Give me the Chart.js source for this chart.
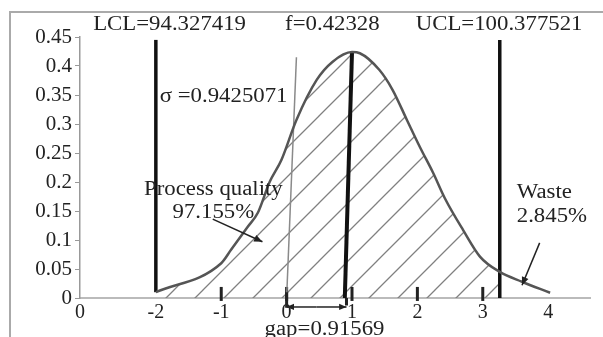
<!DOCTYPE html>
<html>
<head>
<meta charset="utf-8">
<script src="https://cdn.jsdelivr.net/npm/chart.js@4.4.1/dist/chart.umd.min.js"></script>
<style>
  html, body { margin: 0; padding: 0; background: #fff; }
</style>
</head>
<body>
<canvas id="chart" width="603" height="337"></canvas>
<script>
// density curve
const curveX = [-2, -1, -0.85, -0.6, -0.44, -0.26, -0.08, 0.15, 0.46, 0.7, 1.0, 1.12, 1.42, 1.62, 1.84, 2.04, 2.24, 2.42, 2.7, 2.96, 3.26, 3.6, 4.03];
const curveY = [0.01, 0.06, 0.083, 0.122, 0.147, 0.2, 0.238, 0.307, 0.376, 0.407, 0.424, 0.422, 0.393, 0.359, 0.307, 0.26, 0.216, 0.172, 0.117, 0.071, 0.045, 0.028, 0.009];

const xMin = -3.16;
const xMax = 4.64;
const xTickValues = [xMin, -2, -1, 0, 1, 2, 3, 4];
const xTickLabels = ["0", "-2", "-1", "0", "1", "2", "3", "4"];
const tickMarks = [-1, 0, 1, 2, 3];

const lcl = -2;
const ucl = 3.26;
const limitTop = 0.445;
const meanX = [0.89, 1.0];
const meanY = [0, 0.424];
const guideX = [0, 0.15];
const guideY = [0, 0.415];
const gap = 0.91569;

const labels = ["LCL=94.327419", "f=0.42328", "UCL=100.377521", "σ =0.9425071",
                "Process quality", "97.155%", "Waste", "2.845%", "gap=0.91569"];

const FONT = '"Liberation Serif", "Times New Roman", serif';
Chart.defaults.font.family = FONT;
Chart.defaults.font.size = 20;
Chart.defaults.color = "#222";

const pts = (xs, ys) => xs.map((v, i) => ({x: v, y: ys[i]}));

function hatchPattern() {
    const s = 29;
    const c = document.createElement("canvas");
    c.width = s;
    c.height = s;
    const g = c.getContext("2d");
    g.strokeStyle = "#808080";
    g.lineWidth = 1.3;
    g.beginPath();
    g.moveTo(-2, s + 2); g.lineTo(s + 2, -2);
    g.moveTo(-2, 2); g.lineTo(2, -2);
    g.moveTo(s - 2, s + 2); g.lineTo(s + 2, s - 2);
    g.stroke();
    return g.createPattern(c, "repeat");
}

// white page and the grey frame round the plot
const frame = {
    id: "frame",
    beforeDraw(chart) {
        const ctx = chart.ctx;
        ctx.save();
        ctx.fillStyle = "#fff";
        ctx.fillRect(0, 0, chart.width, chart.height);
        ctx.strokeStyle = "#aaa";
        ctx.lineWidth = 2;
        ctx.strokeRect(10, 12, chart.width + 20, chart.height + 20);
        ctx.restore();
    }
};

// keep the hatch left of UCL
const clipHatch = {
    id: "clipHatch",
    beforeDatasetsDraw(chart) {
        const {ctx, chartArea, scales} = chart;
        ctx.save();
        ctx.beginPath();
        ctx.rect(chartArea.left, chartArea.top, scales.x.getPixelForValue(ucl) - chartArea.left, chartArea.height);
        ctx.clip();
    },
    afterDatasetDraw(chart, args) {
        if (chart.data.datasets[args.index].label === "hatch") chart.ctx.restore();
    }
};

function arrow(ctx, x1, y1, x2, y2, size) {
    const a = Math.atan2(y2 - y1, x2 - x1);
    ctx.beginPath();
    ctx.moveTo(x1, y1);
    ctx.lineTo(x2, y2);
    ctx.stroke();
    ctx.beginPath();
    ctx.moveTo(x2, y2);
    ctx.lineTo(x2 - size * Math.cos(a - 0.4), y2 - size * Math.sin(a - 0.4));
    ctx.lineTo(x2 - size * Math.cos(a + 0.4), y2 - size * Math.sin(a + 0.4));
    ctx.closePath();
    ctx.fill();
}

const notes = {
    id: "notes",
    afterDraw(chart) {
        const {ctx, scales: {x, y}} = chart;
        const px = v => x.getPixelForValue(v);
        const py = v => y.getPixelForValue(v);
        ctx.save();
        ctx.font = "20px " + FONT;
        ctx.fillStyle = "#222";
        ctx.textBaseline = "middle";
        // the source type is a little wider than Times, stretch it a bit
        const put = (t, vx, vy, align) => {
            ctx.save();
            ctx.translate(px(vx), py(vy));
            ctx.scale(1.14, 1);
            ctx.textAlign = align;
            ctx.fillText(t, 0, 0);
            ctx.restore();
        };
        put(labels[0], -1.79, 0.471, "center");
        put(labels[1], 0.70, 0.471, "center");
        put(labels[2], 3.25, 0.471, "center");
        put(labels[3], -1.94, 0.347, "left");
        put(labels[4], -1.12, 0.186, "center");
        put(labels[5], -1.12, 0.147, "center");
        put(labels[6], 3.52, 0.181, "left");
        put(labels[7], 3.52, 0.14, "left");
        put(labels[8], 0.58, -0.055, "center");

        ctx.strokeStyle = "#222";
        ctx.lineWidth = 1.5;
        arrow(ctx, px(-1.13), py(0.136), px(-0.37), py(0.097), 9);
        arrow(ctx, px(3.87), py(0.095), px(3.6), py(0.022), 9);

        // gap arrow under the axis
        const ay = py(-0.0155);
        arrow(ctx, px(gap / 2), ay, px(0), ay, 8);
        arrow(ctx, px(gap / 2), ay, px(gap), ay, 8);
        ctx.lineWidth = 3;
        ctx.beginPath();
        ctx.moveTo(px(0), py(0.01));
        ctx.lineTo(px(0), py(-0.017));
        ctx.moveTo(px(gap), py(0));
        ctx.lineTo(px(gap), py(-0.013));
        ctx.stroke();
        ctx.restore();
    }
};

const lineSet = (label, data, color, width) => ({
    label, data, showLine: true, borderColor: color, borderWidth: width,
    pointRadius: 0, fill: false
});

new Chart(document.getElementById("chart"), {
    type: "scatter",
    data: {
        datasets: [
            {
                ...lineSet("curve", pts(curveX, curveY), "#555", 2.5),
                cubicInterpolationMode: "monotone"
            },
            lineSet("LCL", pts([lcl, lcl], [curveY[0], limitTop]), "#111", 3.5),
            lineSet("UCL", pts([ucl, ucl], [0, limitTop]), "#111", 3.5),
            {...lineSet("mean", pts(meanX, meanY), "#111", 4), clip: false},
            lineSet("guide", pts(guideX, guideY), "#8a8a8a", 1.5),
            {
                label: "marks",
                data: tickMarks.map(v => ({x: v, y: 0.007})),
                showLine: false,
                pointStyle: "line",
                rotation: 90,
                pointRadius: 7,
                pointBorderWidth: 3,
                pointBorderColor: "#222",
                clip: false
            },
            {
                ...lineSet("hatch", pts(curveX, curveY), "rgba(0,0,0,0)", 0),
                cubicInterpolationMode: "monotone",
                fill: "origin",
                backgroundColor: hatchPattern(),
                order: 10
            }
        ]
    },
    options: {
        responsive: false,
        animation: false,
        layout: {padding: {top: 37, right: 13, left: 0, bottom: 0}},
        plugins: {legend: {display: false}, tooltip: {enabled: false}},
        scales: {
            x: {
                type: "linear",
                min: xMin,
                max: xMax,
                afterBuildTicks: s => { s.ticks = xTickValues.map(v => ({value: v})); },
                afterFit: s => { s.height = 39; },
                ticks: {
                    autoSkip: false,
                    maxRotation: 0,
                    padding: 3,
                    callback: (v, i) => xTickLabels[i]
                },
                grid: {drawOnChartArea: false, drawTicks: false},
                border: {color: "#bbb", width: 2}
            },
            y: {
                min: 0,
                max: 0.45,
                afterFit: s => { s.width = 80; },
                ticks: {
                    stepSize: 0.05,
                    padding: 3,
                    font: {size: 21},
                    callback: v => String(+v.toFixed(2))
                },
                grid: {drawOnChartArea: false, drawTicks: true, tickLength: 5, color: "#999"},
                border: {color: "#999", width: 1.5}
            }
        }
    },
    plugins: [frame, clipHatch, notes]
});
</script>
</body>
</html>
